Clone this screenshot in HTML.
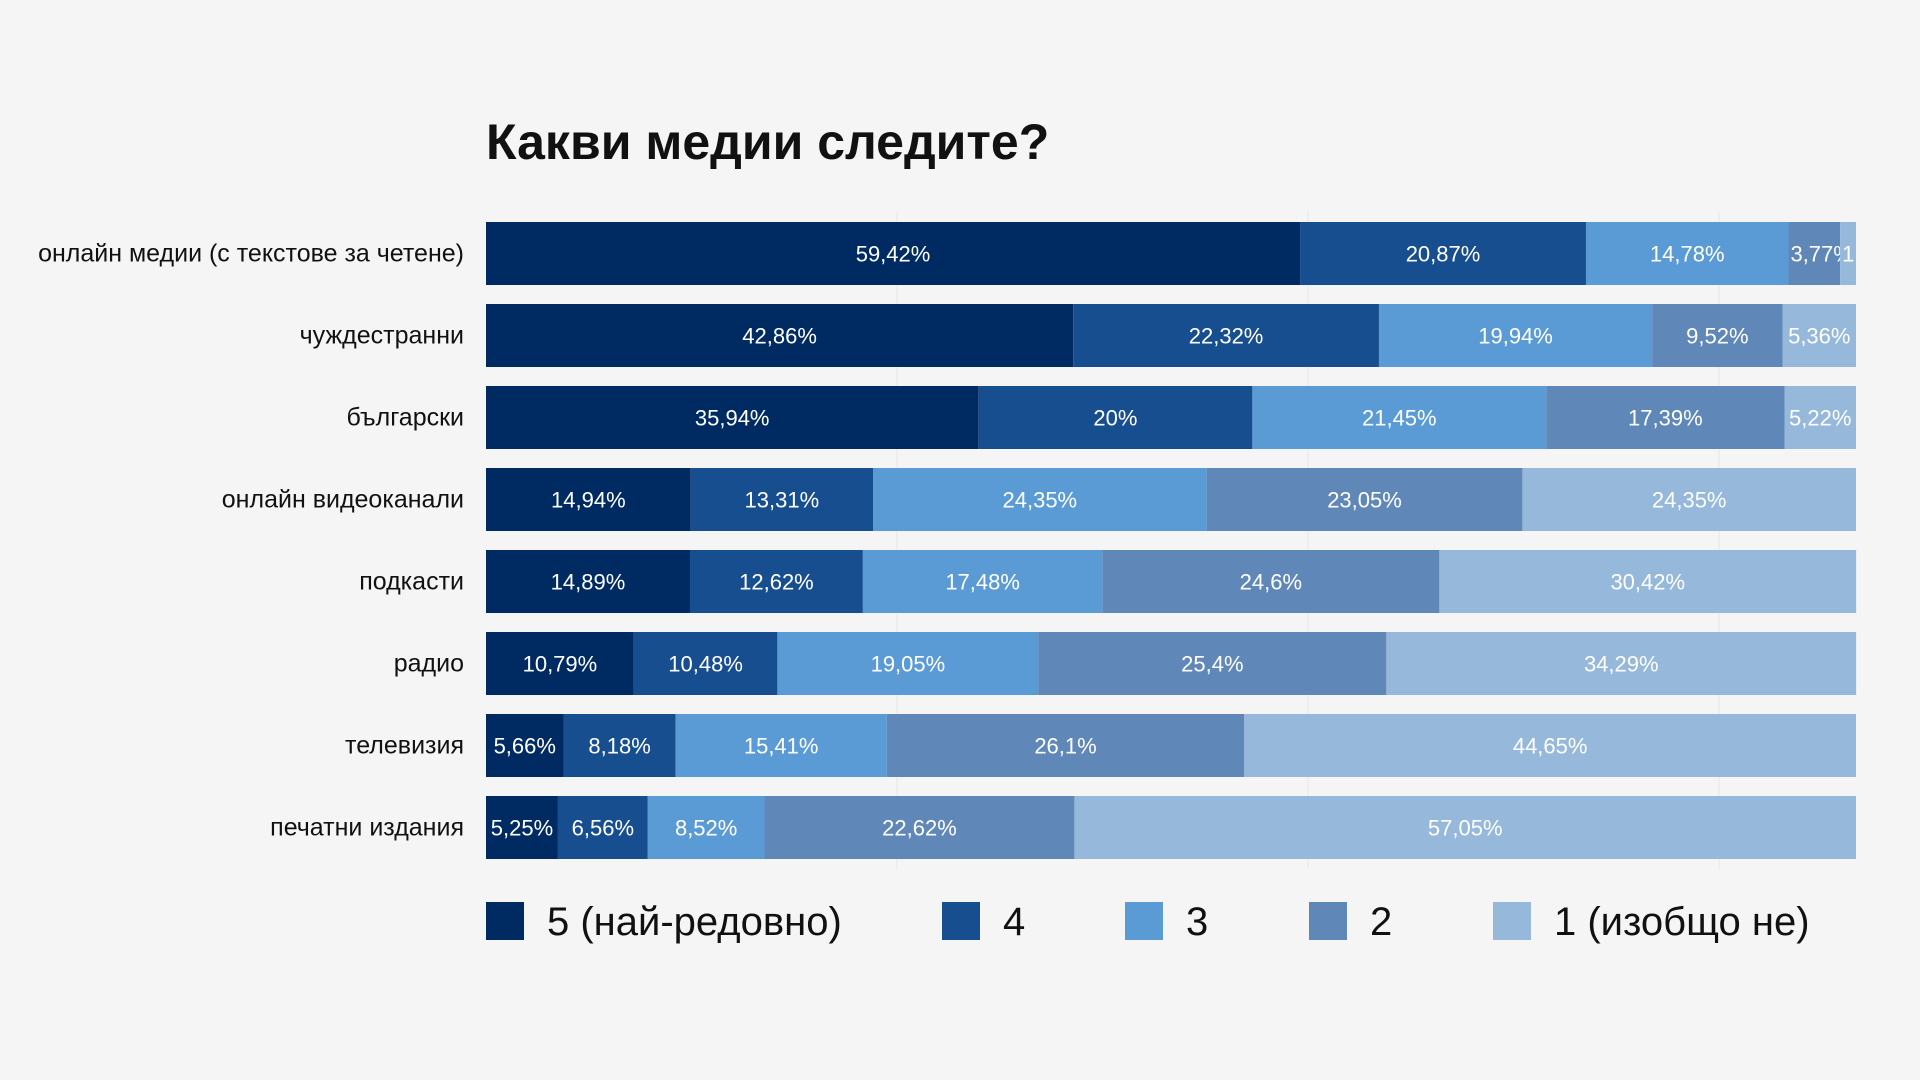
<!DOCTYPE html>
<html><head><meta charset="utf-8"><style>
body{margin:0;background:#f5f5f5;}
svg{display:block;font-family:"Liberation Sans","DejaVu Sans",sans-serif;}
</style></head><body>
<svg id="chart" width="1920" height="1080">
<rect width="1920" height="1080" fill="#f5f5f5"/>
<text x="486" y="159" font-size="50" font-weight="bold" fill="#111">Какви медии следите?</text>
<g id="grid"></g><g id="bars"></g><g id="labels"></g><g id="legend"></g>
</svg>
<script>
const categories=["онлайн медии (с текстове за четене)","чуждестранни","български","онлайн видеоканали","подкасти","радио","телевизия","печатни издания"];
const s5=[59.42,42.86,35.94,14.94,14.89,10.79,5.66,5.25];
const s4=[20.87,22.32,20,13.31,12.62,10.48,8.18,6.56];
const s3=[14.78,19.94,21.45,24.35,17.48,19.05,15.41,8.52];
const s2=[3.77,9.52,17.39,23.05,24.6,25.4,26.1,22.62];
const s1=[1.16,5.36,5.22,24.35,30.42,34.29,44.65,57.05];
const seriesNames=["5 (най-редовно)","4","3","2","1 (изобщо не)"];
const gridTicks=[30,60,90];
const series=[s5,s4,s3,s2,s1];
const colors=["#002b62","#174e8f","#5b9bd5","#5f87b8","#95b8db"];
const NS="http://www.w3.org/2000/svg";
const X0=486,X1=1856,Y0=222,BH=63,PITCH=82;
const x=v=>X0+(X1-X0)*v/100;
function mk(t,a,p){const e=document.createElementNS(NS,t);for(const k in a)e.setAttribute(k,a[k]);p.appendChild(e);return e;}
const fmt=v=>String(+v.toFixed(2)).replace('.',',')+'%';
const grid=document.getElementById('grid');
gridTicks.forEach(t=>{const l=mk('line',{x1:x(t),x2:x(t),y1:Y0-10,y2:Y0+7*PITCH+BH+10,stroke:'#e6e6e6','stroke-width':1},grid);

});
const bars=document.getElementById('bars'),labs=document.getElementById('labels');
const svg=document.getElementById('chart');
const defs=mk('defs',{},svg);
categories.forEach((c,i)=>{
 const y=Y0+i*PITCH;
 const t=mk('text',{x:464,y:y+BH/2+8,'text-anchor':'end','font-size':25,fill:'#111'},labs);
 t.textContent=c;
 
 
 let acc=0;
 series.forEach((s,j)=>{
  const v=s[i];const xa=x(acc),xb=x(acc+v);acc+=v;
  const r=mk('rect',{x:xa,y:y,width:Math.max(0,xb-xa),height:BH,fill:colors[j]},bars);
  
  
  const id='c'+i+'_'+j;
  const cp=mk('clipPath',{id:id},defs);mk('rect',{x:xa,y:y,width:Math.max(0,xb-xa),height:BH},cp);
  const narrow=xb-xa<70;
  const lt=mk('text',{x:narrow?xa+2:(xa+xb)/2,y:y+BH/2+8,'text-anchor':narrow?'start':'middle','font-size':22,fill:'#fff','clip-path':'url(#'+id+')'},bars);
  lt.textContent=fmt(v);
  
  
 });
});
const leg=document.getElementById('legend');
const lx=[486,942,1125,1309,1493];
seriesNames.forEach((n,j)=>{
 const g=mk('g',{},leg);
 
 
 mk('rect',{x:lx[j],y:902,width:38,height:38,fill:colors[j]},g);
 const t=mk('text',{x:lx[j]+61,y:935,'font-size':40,fill:'#111'},g);t.textContent=n;
});
</script>
</body></html>
